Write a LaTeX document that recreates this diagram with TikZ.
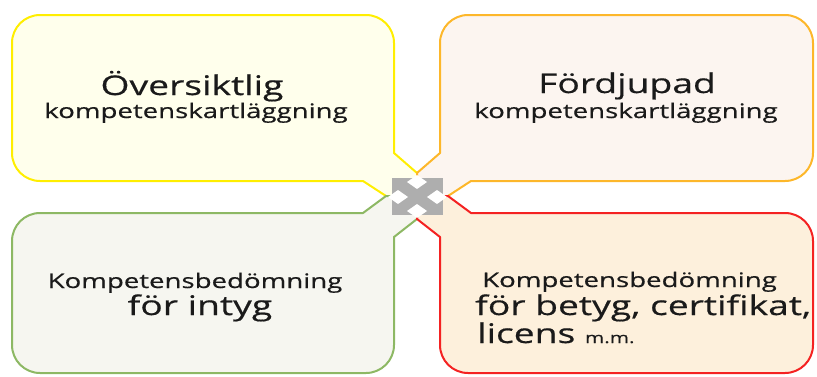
\documentclass[tikz,border=0pt]{standalone}
\usepackage{fontspec}
\usepackage{tikz}
\newfontfamily\bubblefont[FakeStretch=1.38, FakeBold=0.5]{Open Sans}
\definecolor{tlstroke}{HTML}{FFEE00}
\definecolor{tlfill}{HTML}{FFFFEC}
\definecolor{trstroke}{HTML}{FDB72A}
\definecolor{trfill}{HTML}{FCF5F0}
\definecolor{blstroke}{HTML}{8DB864}
\definecolor{blfill}{HTML}{F6F6F0}
\definecolor{brstroke}{HTML}{F42222}
\definecolor{brfill}{HTML}{FDF0DC}
\definecolor{icongrey}{HTML}{AEAEAE}
\definecolor{textdark}{HTML}{1A1A1A}

\tikzset{
  bubble/.style={line width=2pt, line join=round},
  headtext/.style={font=\bubblefont\fontsize{27}{27}\selectfont, text=textdark, inner sep=0pt, anchor=base},
  subtext/.style={font=\bubblefont\fontsize{20}{20}\selectfont, text=textdark, inner sep=0pt, anchor=base},
}

\begin{document}
\begin{tikzpicture}[x=1pt, y=1pt]
  \useasboundingbox (0,0) rectangle (817,376);

  % Top left bubble (yellow)
  \path[bubble, fill=tlfill, draw=tlstroke]
    (417,180) -- (417,203) -- (394,223) [rounded corners=28pt] -- (394,361) -- (12,361) -- (12,195)
    [sharp corners] -- (363,195) -- (386,180) -- cycle;
  \node[headtext] (tlhead) at (192,281) {Översiktlig};
  \node[subtext] (tlsub) at (196,258) {kompetenskartläggning};

  % Top right bubble (orange)
  \path[bubble, fill=trfill, draw=trstroke]
    (417,180) -- (417,203) -- (440,223) [rounded corners=28pt] -- (440,361) -- (813,361) -- (813,195)
    [sharp corners] -- (471,195) -- (448,180) -- cycle;
  \node[headtext] (trhead) at (627,283) {Fördjupad};
  \node[subtext] (trsub) at (626,258) {kompetenskartläggning};

  % Bottom left bubble (green)
  \path[bubble, fill=blfill, draw=blstroke]
    (417,180) -- (417,157) -- (394,139) [rounded corners=28pt] -- (394,3) -- (12,3) -- (12,163)
    [sharp corners] -- (363,163) -- (386,180) -- cycle;
  \node[subtext] (blsub) at (195,88) {Kompetensbedömning};
  \node[headtext] (blhead) at (200,61) {för intyg};

  % Bottom right bubble (red)
  \path[bubble, fill=brfill, draw=brstroke]
    (417,180) -- (417,157) -- (440,139) [rounded corners=28pt] -- (440,3) -- (813,3) -- (813,163)
    [sharp corners] -- (471,163) -- (448,180) -- cycle;
  \node[subtext, anchor=base west] (brsub) at (482,89) {Kompetensbedömning};
  \node[headtext, anchor=base west] (brhead) at (475,61) {för betyg, certifikat,};
  \node[headtext, anchor=base west] (brlast) at (477,33)
    {licens {\fontsize{15}{15}\selectfont m.m.}};

  % Centre cross icon
  \fill[icongrey] (392,161) rectangle (443,198);
  \fill[white] (407,194) -- (417,201) -- (427,194) -- (417,187) -- cycle;
  \fill[white] (407,165) -- (417,172) -- (427,165) -- (417,158) -- cycle;
  \fill[white] (388,179) -- (398,186) -- (408,179) -- (398,172) -- cycle;
  \fill[white] (427,179) -- (437,186) -- (447,179) -- (437,172) -- cycle;
\end{tikzpicture}
\end{document}
